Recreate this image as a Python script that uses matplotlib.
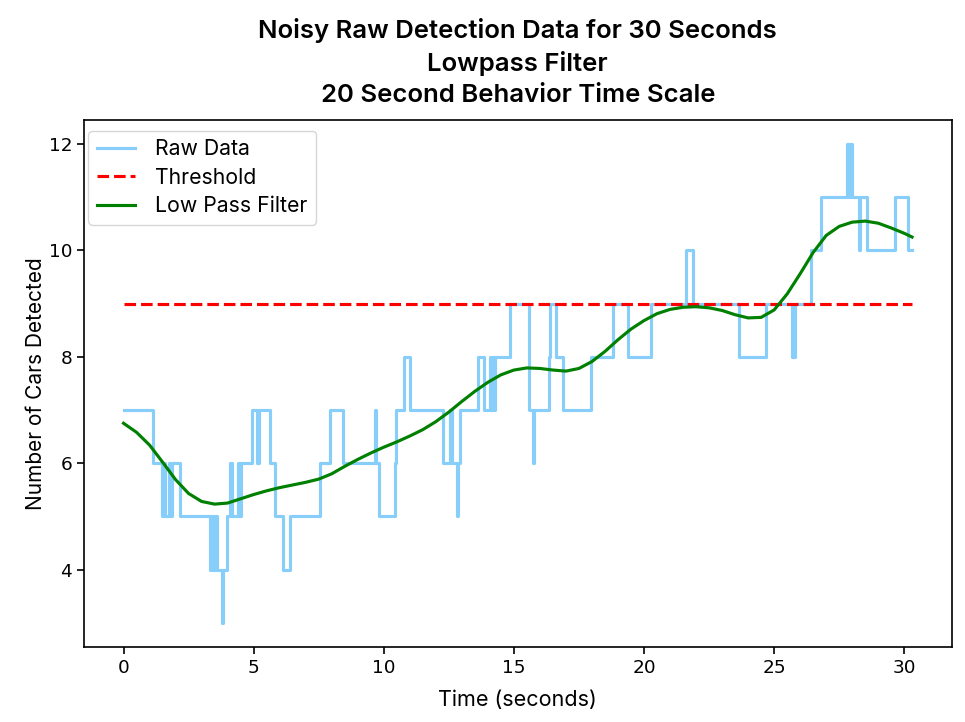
import matplotlib
matplotlib.use("Agg")
import matplotlib.pyplot as plt

# Raw detection data: change times (s) and the count held from that time on
raw_t = [0.00, 1.15, 1.47, 1.55, 1.60, 1.73, 1.78, 1.85, 2.17, 3.32, 3.38, 3.42, 3.47,
         3.52, 3.56, 3.60, 3.77, 3.82, 3.96, 4.09, 4.18, 4.41, 4.45, 4.52, 4.95, 5.11,
         5.20, 5.62, 5.81, 6.13, 6.39, 7.54, 7.92, 8.43, 9.65, 9.72, 9.80, 10.42, 10.48,
         10.76, 10.99, 12.27, 12.53, 12.62, 12.80, 12.84, 12.91, 13.62, 13.85, 14.07,
         14.12, 14.18, 14.23, 14.28, 14.84, 15.57, 15.73, 15.79, 16.36, 16.40, 16.62,
         16.88, 17.97, 18.80, 19.37, 20.27, 21.61, 21.87, 23.66, 24.68, 25.70, 25.80,
         26.41, 26.79, 27.81, 27.86, 27.90, 28.00, 28.26, 28.30, 28.58, 29.64, 30.15,
         30.30]
raw_v = [7, 6, 5, 6, 5, 6, 5, 6, 5, 4, 5, 4, 5,
         4, 5, 4, 3, 4, 5, 6, 5, 6, 5, 6, 7, 6,
         7, 6, 5, 4, 5, 6, 7, 6, 7, 6, 5, 6, 7,
         8, 7, 6, 7, 6, 5, 6, 7, 8, 7, 8,
         7, 8, 7, 8, 9, 7, 6, 7, 8, 9, 8,
         7, 8, 9, 8, 9, 10, 9, 8, 9, 8, 9,
         10, 11, 12, 11, 12, 11, 10, 11, 10, 11, 10,
         10]

# Low pass filter curve
lp_t = [0.0, 0.5, 1.0, 1.5, 2.0, 2.5, 3.0, 3.5, 4.0, 4.5, 5.0, 5.5, 6.0, 6.5, 7.0, 7.5,
        8.0, 8.5, 9.0, 9.5, 10.0, 10.5, 11.0, 11.5, 12.0, 12.5, 13.0, 13.5, 14.0, 14.5,
        15.0, 15.5, 16.0, 16.5, 17.0, 17.5, 18.0, 18.5, 19.0, 19.5, 20.0, 20.5, 21.0,
        21.5, 22.0, 22.5, 23.0, 23.5, 24.0, 24.5, 25.0, 25.5, 26.0, 26.5, 27.0, 27.5,
        28.0, 28.5, 29.0, 29.5, 30.0, 30.3]
lp_v = [6.75, 6.58, 6.34, 6.02, 5.69, 5.43, 5.28, 5.23, 5.25, 5.33, 5.41, 5.48, 5.54,
        5.59, 5.64, 5.70, 5.80, 5.94, 6.07, 6.19, 6.30, 6.40, 6.51, 6.63, 6.78, 6.96,
        7.16, 7.35, 7.52, 7.66, 7.75, 7.79, 7.78, 7.75, 7.73, 7.78, 7.91, 8.10, 8.32,
        8.52, 8.68, 8.81, 8.89, 8.93, 8.94, 8.92, 8.87, 8.79, 8.73, 8.74, 8.88, 9.18,
        9.56, 9.96, 10.28, 10.45, 10.53, 10.55, 10.51, 10.42, 10.32, 10.25]

threshold = 9
thr_t = [0.0, 30.3]

title = "Noisy Raw Detection Data for 30 Seconds\nLowpass Filter\n20 Second Behavior Time Scale"
xlabel = "Time (seconds)"
ylabel = "Number of Cars Detected"
TXT = ["Inter", "DejaVu Sans"]

fig = plt.figure(figsize=(9.65, 7.22), dpi=100)
ax = fig.add_axes([84.1 / 965, 1 - 646.7 / 722, (951.5 - 84.1) / 965, (646.7 - 120) / 722])

ax.step(raw_t, raw_v, where="post", color="lightskyblue", lw=2.25, label="Raw Data")
ax.plot(thr_t, [threshold, threshold], color="red", ls="--", lw=2.25, label="Threshold")
ax.plot(lp_t, lp_v, color="green", lw=2.25, label="Low Pass Filter")

ax.set_xticks([0, 5, 10, 15, 20, 25, 30])
ax.set_yticks([4, 6, 8, 10, 12])
ax.tick_params(labelsize=13.3, length=5, width=1.2)
for s in ax.spines.values():
    s.set_linewidth(1.2)

ax.set_title(title, family=TXT, fontsize=18.5, fontweight="semibold", pad=13, linespacing=1.43)
ax.set_xlabel(xlabel, family=TXT, fontsize=15.5, labelpad=10)
ax.set_ylabel(ylabel, family=TXT, fontsize=15, labelpad=2)

leg = ax.legend(loc="upper left", bbox_to_anchor=(88.3 / 965, 1 - 130.7 / 722),
                bbox_transform=fig.transFigure, borderaxespad=0, labelspacing=0.4,
                handlelength=1.8, handletextpad=0.95, prop={"family": TXT, "size": 15.3})

fig.savefig("out.png", dpi=100)
